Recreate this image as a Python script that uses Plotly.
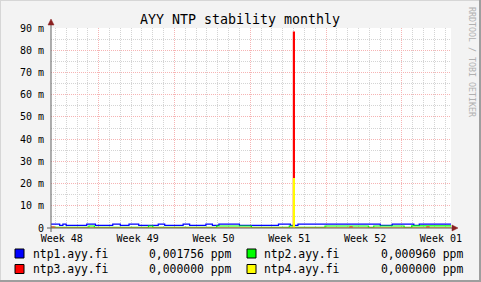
import plotly.graph_objects as go

# ---------------- data (time in days from graph start, values in ppm) ----------------
ntp1_t = [0, 0.8, 1.1, 1.4, 3.3, 4.1, 5.7, 6.4, 7.2, 8.1, 9.9, 10.5, 12.2, 12.8, 14.3, 14.9,
          15.5, 17.4, 21.0, 22.1, 22.8, 30.4, 31.5, 33.5, 34.0, 36.93]
ntp1_v = [0.0017, 0.0012, 0.0017, 0.0012, 0.0017, 0.0012, 0.0017, 0.0012, 0.0017, 0.0012,
          0.0017, 0.0012, 0.0017, 0.0012, 0.0017, 0.0012, 0.0017, 0.0012, 0.0017, 0.0012,
          0.0017, 0.0012, 0.0017, 0.0012, 0.0017, 0.0017]

ntp2_t = [0, 3.5, 4.0, 9.0, 9.4, 15.3, 18.5, 22.0, 22.4, 25.3, 29.3, 29.8, 32.6, 33.3, 36.93]
ntp2_v = [0.0003, 0.0009, 0.0003, 0.0009, 0.0003, 0.0009, 0.0003, 0.0009, 0.0003, 0.0009,
          0.0003, 0.0009, 0.0003, 0.00096, 0.00096]

ntp3_t = [0, 0.3, 22.38, 22.47, 27.6, 27.8, 34.7, 34.9, 36.93]
ntp3_v = [0.0004, 0.0, 0.0882, 0.0, 0.0004, 0.0, 0.0004, 0.0, 0.0]

ntp4_t = [0, 22.38, 22.47, 36.93]
ntp4_v = [0.0, 0.0222, 0.0, 0.0]

series_names = ["ntp1.ayy.fi", "ntp2.ayy.fi", "ntp3.ayy.fi", "ntp4.ayy.fi"]
series_last = ["0,001756 ppm", "0,000960 ppm", "0,000000 ppm", "0,000000 ppm"]
series_colors = ["#0000ff", "#00ff00", "#ff0000", "#ffff00"]

week_days = [1, 8, 15, 22, 29, 36]
week_labels = ["Week 48", "Week 49", "Week 50", "Week 51", "Week 52", "Week 01"]

y_ticks = [0, 0.01, 0.02, 0.03, 0.04, 0.05, 0.06, 0.07, 0.08, 0.09]
y_labels = ["0", "10 m", "20 m", "30 m", "40 m", "50 m", "60 m", "70 m", "80 m", "90 m"]

X_MAX = 36.93
Y_MAX = 0.09
TITLE = "AYY NTP stability monthly"
WATERMARK = "RRDTOOL / TOBI OETIKER"

# ---------------- figure ----------------
FONT = "DejaVu Sans Mono"
W, H = 481, 282
L, R, T, B = 51, 30, 28, 54
PW, PH = W - L - R, H - T - B


def px(x):
    return (x - L) / PW


def py(y):
    return (H - B - y) / PH


fig = go.Figure()
data = [(ntp1_t, ntp1_v), (ntp2_t, ntp2_v), (ntp3_t, ntp3_v), (ntp4_t, ntp4_v)]
for i, (t, v) in enumerate(data):
    fig.add_trace(go.Scatter(
        x=t, y=v, mode="lines", name=series_names[i],
        line=dict(color=series_colors[i], width=1.2, shape="hv"),
        xaxis="x2" if i == 3 else "x", yaxis="y", hoverinfo="skip"))

major = "#f6b4b4"
minor = "#d4d4d4"
dots = "1px,1px"

shapes = []
annotations = []

# frame of the picture
shapes.append(dict(type="line", xref="paper", yref="paper", x0=px(0.5), x1=px(W), y0=py(0.5), y1=py(0.5),
                   line=dict(color="#d6d6d6", width=1), layer="above"))
shapes.append(dict(type="line", xref="paper", yref="paper", x0=px(0.5), x1=px(0.5), y0=py(0), y1=py(H),
                   line=dict(color="#d6d6d6", width=1), layer="above"))
shapes.append(dict(type="line", xref="paper", yref="paper", x0=px(0), x1=px(W), y0=py(H - 1), y1=py(H - 1),
                   line=dict(color="#9e9e9e", width=2), layer="above"))
shapes.append(dict(type="line", xref="paper", yref="paper", x0=px(W - 1), x1=px(W - 1), y0=py(0), y1=py(H),
                   line=dict(color="#9e9e9e", width=2), layer="above"))

# axes lines with arrows
axis_col = "#606060"
arrow_col = "#8b2020"
shapes.append(dict(type="line", xref="paper", yref="paper", x0=px(47), x1=px(454), y0=0, y1=0,
                   line=dict(color=axis_col, width=1), layer="above"))
shapes.append(dict(type="line", xref="paper", yref="paper", x0=0, x1=0, y0=py(232), y1=py(23),
                   line=dict(color=axis_col, width=1), layer="above"))
shapes.append(dict(type="path", xref="paper", yref="paper",
                   path=f"M {px(51)},{py(19)} L {px(54)},{py(25)} L {px(48)},{py(25)} Z",
                   fillcolor=arrow_col, line=dict(color=arrow_col, width=0.5), layer="above"))
shapes.append(dict(type="path", xref="paper", yref="paper",
                   path=f"M {px(458)},{py(228)} L {px(452)},{py(225)} L {px(452)},{py(231)} Z",
                   fillcolor=arrow_col, line=dict(color=arrow_col, width=0.5), layer="above"))

# legend
leg_rows = [253.5, 269]
leg_cols = [(15, 30.5, 232.5), (247, 262, 464.5)]
for i in range(4):
    col = leg_cols[i % 2]
    row = leg_rows[i // 2]
    shapes.append(dict(type="rect", xref="paper", yref="paper",
                       x0=px(col[0]), x1=px(col[0] + 9), y0=py(row - 4.5), y1=py(row + 4.5),
                       fillcolor=series_colors[i], line=dict(color="#000000", width=1), layer="above"))
    annotations.append(dict(xref="paper", yref="paper", x=px(col[1]), y=py(row), text=series_names[i],
                            showarrow=False, xanchor="left", yanchor="middle",
                            font=dict(family=FONT, size=11.4, color="#000000")))
    annotations.append(dict(xref="paper", yref="paper", x=px(col[2]), y=py(row), text=series_last[i],
                            showarrow=False, xanchor="right", yanchor="middle",
                            font=dict(family=FONT, size=11.4, color="#000000")))

# watermark
annotations.append(dict(xref="paper", yref="paper", x=px(472), y=py(5), text=WATERMARK,
                        showarrow=False, xanchor="center", yanchor="top", textangle=90,
                        font=dict(family=FONT, size=8.3, color="#b0b0b0")))

fig.update_layout(
    width=W, height=H,
    margin=dict(l=L, r=R, t=T, b=B, pad=0),
    paper_bgcolor="#f3f3f3", plot_bgcolor="#ffffff",
    showlegend=False,
    title=dict(text=TITLE, x=240 / W, xanchor="center", y=1 - 19 / H, yanchor="middle",
               font=dict(family=FONT, size=13.3, color="#000000")),
    xaxis=dict(range=[0, X_MAX], tickmode="linear", tick0=4.4, dtick=7, showticklabels=False,
               ticks="", showgrid=True, gridcolor=major, griddash=dots, gridwidth=1,
               zeroline=False, showline=False,
               minor=dict(tickmode="linear", tick0=4.4, dtick=1, showgrid=True,
                          gridcolor=minor, griddash=dots, gridwidth=1)),
    xaxis2=dict(range=[0, X_MAX], overlaying="x", anchor="y", side="bottom",
                tickmode="array", tickvals=week_days, ticktext=week_labels,
                showgrid=False, ticks="", zeroline=False, showline=False,
                ticklabelstandoff=3,
                tickfont=dict(family=FONT, size=10, color="#000000")),
    yaxis=dict(range=[0, Y_MAX], tickmode="array", tickvals=y_ticks, ticktext=y_labels,
               showgrid=True, gridcolor=major, griddash=dots, gridwidth=1,
               ticks="", zeroline=False, showline=False, ticklabelstandoff=6,
               tickfont=dict(family=FONT, size=10, color="#000000"),
               minor=dict(tickmode="linear", tick0=0, dtick=0.005, showgrid=True,
                          gridcolor=minor, griddash=dots, gridwidth=1)),
    shapes=shapes,
    annotations=annotations,
)

fig.write_html("out.html")
